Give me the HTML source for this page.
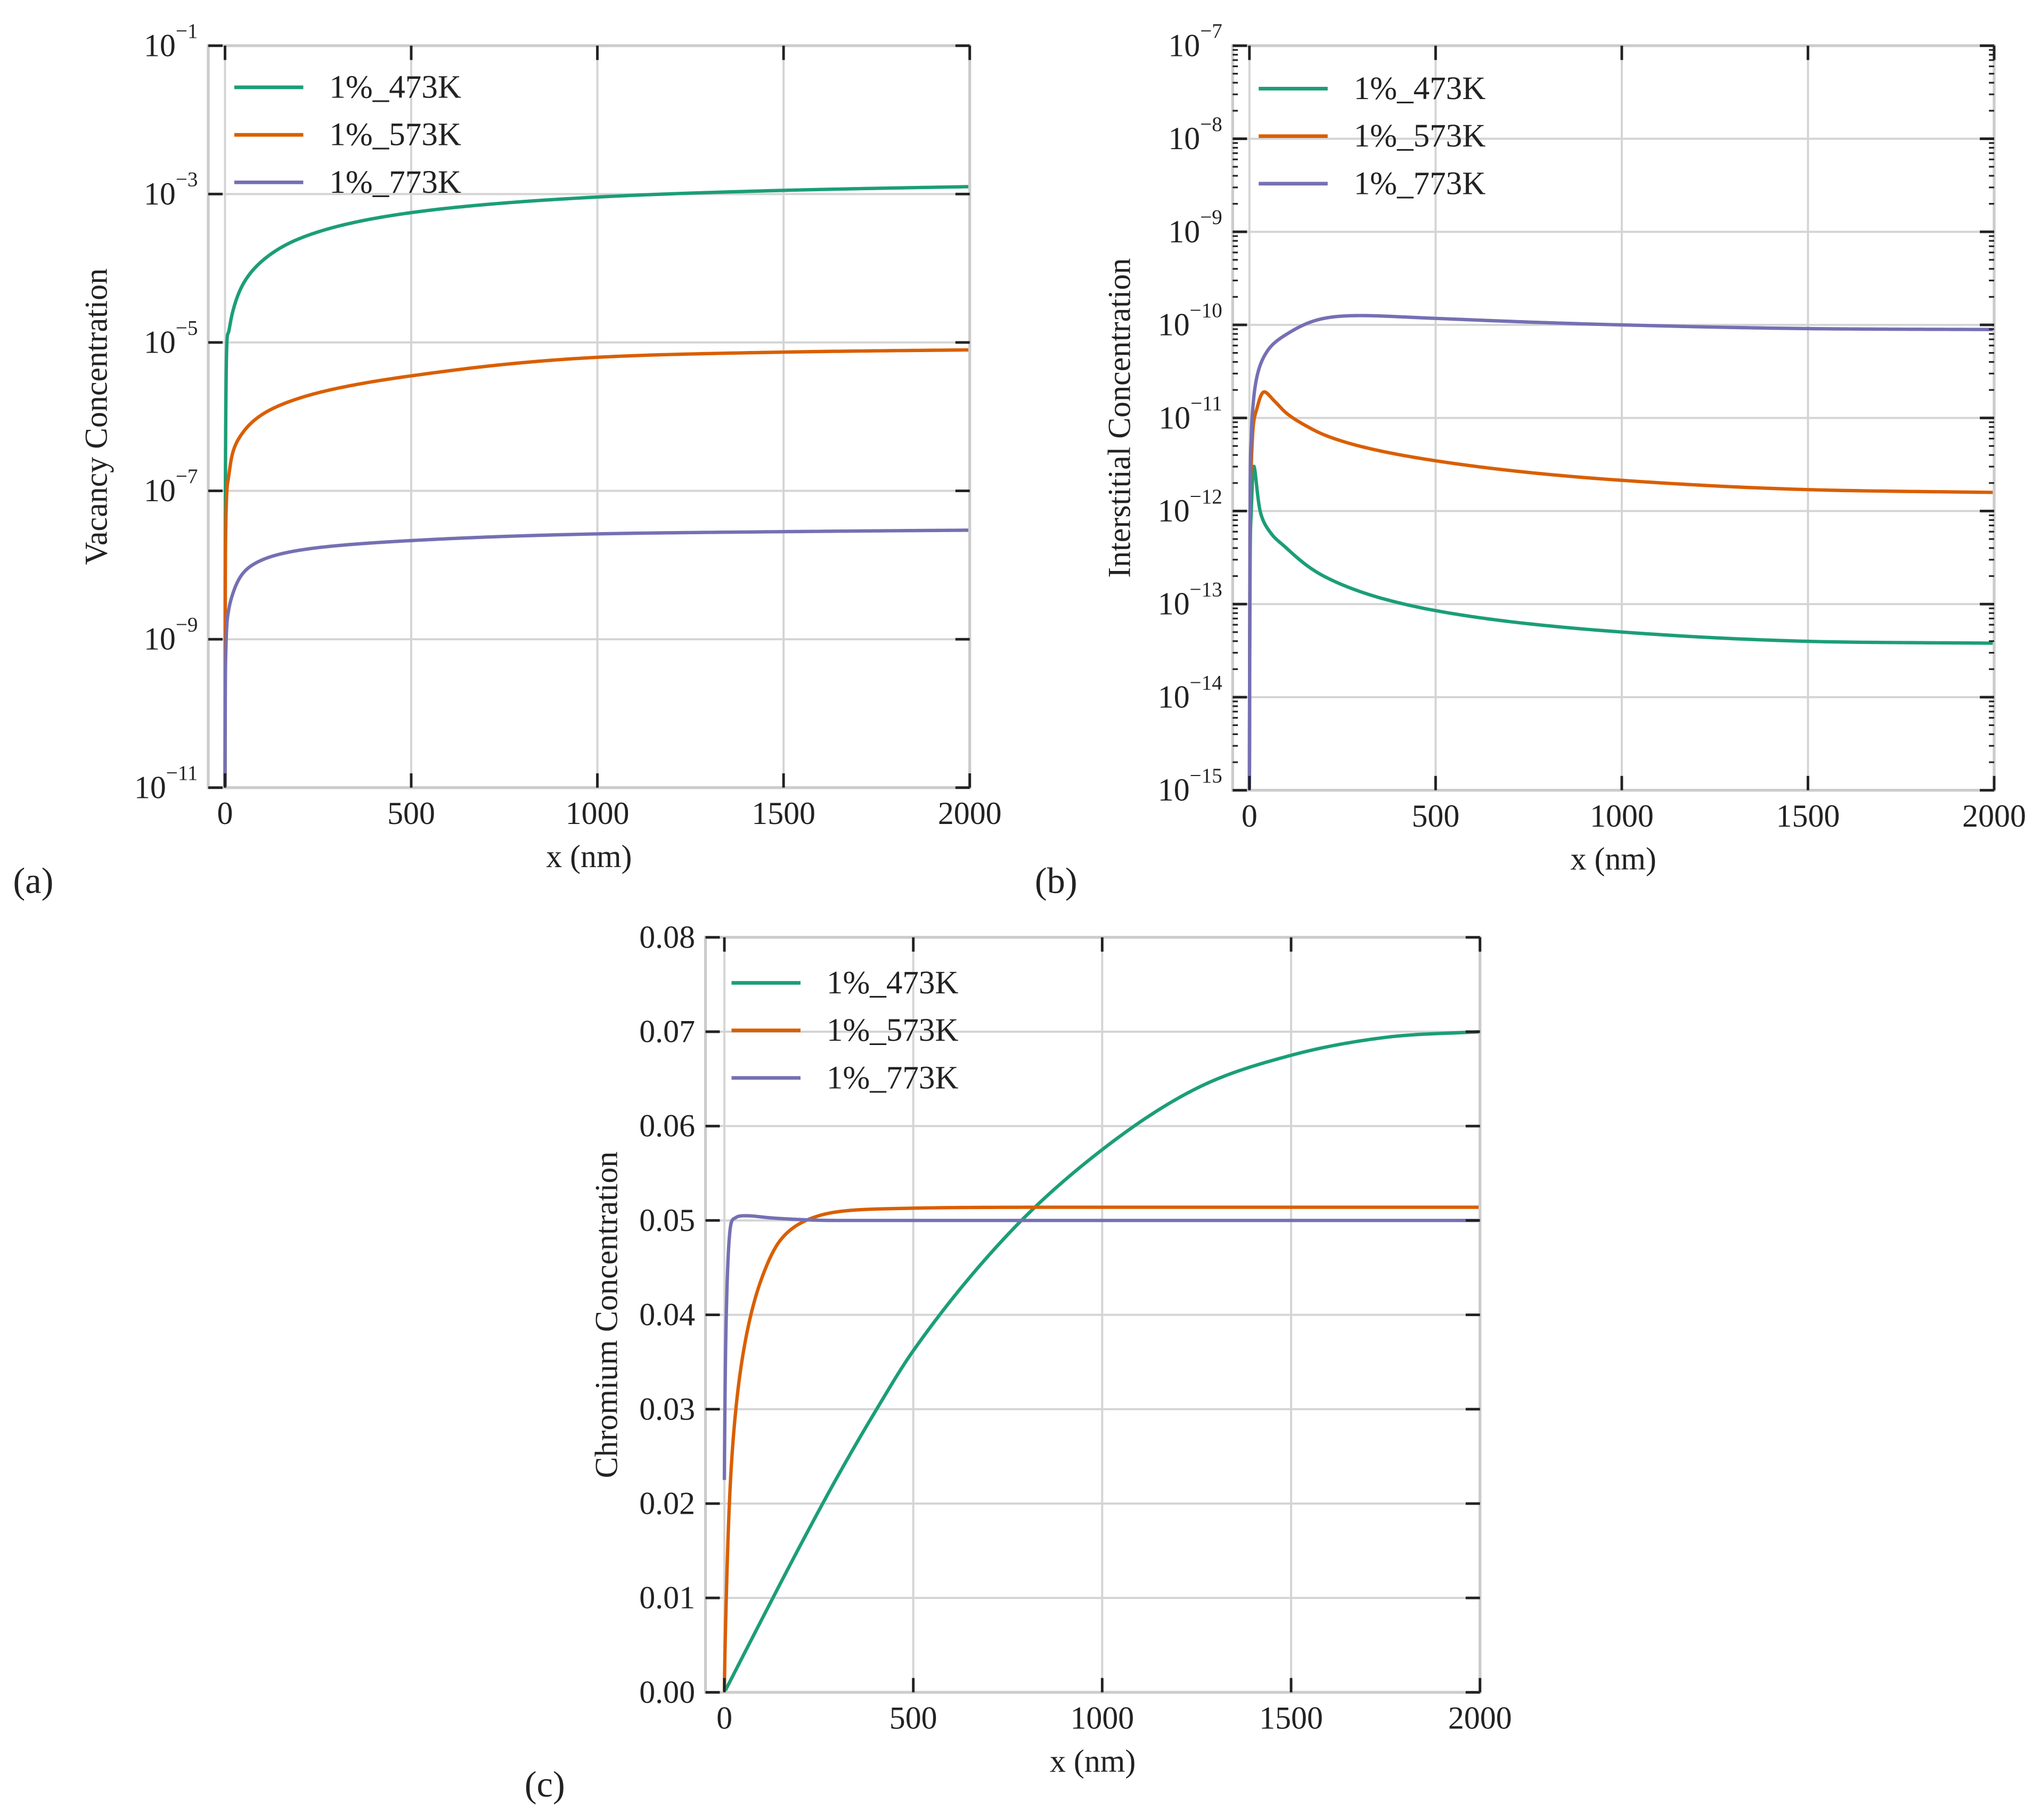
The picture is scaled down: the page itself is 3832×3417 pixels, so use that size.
<!DOCTYPE html>
<html><head><meta charset="utf-8">
<style>
html,body{margin:0;padding:0;background:#fff;}
svg{display:block;}
text{font-family:"Liberation Serif",serif;fill:#222;}
</style></head>
<body>
<svg id="fig" width="3832" height="3417" viewBox="0 0 1568 1398" xmlns="http://www.w3.org/2000/svg"></svg>
<script>
// ---------- data ----------
const seriesNames = ["1%_473K","1%_573K","1%_773K"];
const seriesColors = ["#1b9e77","#d95f02","#7570b3"];

// Panel (a): vacancy concentration, log10 values
const aX473 = [0,0.5,1,2,5,10,20,50,100,200,500,1000,1500,2000];
const aY473 = [-11,-8,-7,-6,-5,-4.85,-4.6,-4.2,-3.9,-3.6,-3.25,-3.04,-2.95,-2.9];
const aX573 = [0,0.5,1,2,5,10,20,50,100,200,500,1000,1500,2000];
const aY573 = [-11,-9,-8,-7.5,-7,-6.8,-6.5,-6.2,-5.97,-5.75,-5.45,-5.2,-5.13,-5.1];
const aX773 = [0,0.5,1,2,5,10,20,50,100,200,500,1000,1500,2000];
const aY773 = [-11,-10,-9.5,-9.2,-8.8,-8.6,-8.4,-8.1,-7.93,-7.8,-7.67,-7.58,-7.55,-7.53];

// Panel (b): interstitial concentration, log10 values
const bX473 = [0,2,5,12,30,60,100,200,500,1000,1500,2000];
const bY473 = [-15,-12.5,-12,-11.52,-12.02,-12.25,-12.4,-12.7,-13.07,-13.3,-13.4,-13.42];
const bX573 = [0,2,5,10,20,40,70,100,150,200,500,1000,1500,2000];
const bY573 = [-15,-12,-11.5,-11.1,-10.9,-10.72,-10.83,-10.95,-11.08,-11.18,-11.46,-11.67,-11.77,-11.8];
const bX773 = [0,2,5,10,20,50,100,200,300,500,1000,1500,2000];
const bY773 = [-15,-11.8,-11.2,-10.85,-10.56,-10.27,-10.1,-9.93,-9.9,-9.93,-10.0,-10.04,-10.05];

// Panel (c): chromium concentration
const cX473 = [0,100,200,300,400,500,750,1000,1250,1500,1750,2000];
const cY473 = [0,0.0078,0.0155,0.0229,0.0298,0.0362,0.0485,0.0575,0.064,0.0675,0.0694,0.070];
const cX573 = [0,5,20,50,100,150,250,500,1000,2000];
const cY573 = [0,0.01,0.025,0.036,0.044,0.048,0.0505,0.0513,0.0514,0.0514];
const cX773 = [0,5,15,30,60,150,300,2000];
const cY773 = [0.0225,0.04,0.049,0.0503,0.0505,0.0502,0.0500,0.0500];

const xTicks = [0,500,1000,1500,2000];
const aYTicks = [-1,-3,-5,-7,-9,-11];
const bYTicks = [-7,-8,-9,-10,-11,-12,-13,-14,-15];
const cYTicks = [0,0.01,0.02,0.03,0.04,0.05,0.06,0.07,0.08];
const cYTickLabels = ["0.00","0.01","0.02","0.03","0.04","0.05","0.06","0.07","0.08"];

// ---------- helpers ----------
const NS="http://www.w3.org/2000/svg";
const svg=document.getElementById('fig');
function el(tag,attrs,parent){const e=document.createElementNS(NS,tag);for(const k in attrs)e.setAttribute(k,attrs[k]);(parent||svg).appendChild(e);return e;}
function interp(xs,ys,mode){
  const f=mode==='lin'?(x=>x):(x=>Math.log(1+x/2));
  const fi=mode==='lin'?(u=>u):(u=>2*(Math.exp(u)-1));
  const u=xs.map(f),n=u.length,d=[],m=[];
  for(let i=0;i<n-1;i++)d.push((ys[i+1]-ys[i])/(u[i+1]-u[i]));
  m[0]=d[0];m[n-1]=d[n-2];
  for(let i=1;i<n-1;i++)m[i]=(d[i-1]*d[i]<=0)?0:(d[i-1]+d[i])/2;
  for(let i=0;i<n-1;i++){if(d[i]===0){m[i]=0;m[i+1]=0;continue;}const a=m[i]/d[i],b=m[i+1]/d[i],s=a*a+b*b;if(s>9){const t=3/Math.sqrt(s);m[i]=t*a*d[i];m[i+1]=t*b*d[i];}}
  const out=[];
  for(let i=0;i<n-1;i++){
    const h=u[i+1]-u[i],N=40;
    for(let k=0;k<N;k++){const t=k/N,t2=t*t,t3=t2*t;
      const y=(2*t3-3*t2+1)*ys[i]+(t3-2*t2+t)*h*m[i]+(-2*t3+3*t2)*ys[i+1]+(t3-t2)*h*m[i+1];
      out.push([fi(u[i]+t*h),y]);}
  }
  out.push([xs[n-1],ys[n-1]]);
  return out;
}

function panel(cfg){
  const g=el('g',{});
  
  
  const {L,R,T,B,x0,x1,y0,y1}=cfg;
  const sx=v=>L+(v-x0)/(x1-x0)*(R-L);
  const sy=v=>B-(v-y0)/(y1-y0)*(B-T);
  xTicks.forEach(t=>{const l=el('line',{x1:sx(t),x2:sx(t),y1:T,y2:B,stroke:'#d4d4d4','stroke-width':1.6},g);
    });
  cfg.yTicks.forEach(t=>{const l=el('line',{x1:L,x2:R,y1:sy(t),y2:sy(t),stroke:'#d4d4d4','stroke-width':1.6},g);
    });
  cfg.series.forEach((s,i)=>{
    const pts=interp(s[0],s[1],s[2]||'log').map(p=>sx(p[0]).toFixed(2)+','+sy(p[1]).toFixed(2));
    const p=el('polyline',{points:pts.join(' '),fill:'none',stroke:seriesColors[i],'stroke-width':2.6,'stroke-linejoin':'round'},g);
    
    
  });
  const fr=el('rect',{x:L,y:T,width:R-L,height:B-T,fill:'none',stroke:'#cccccc','stroke-width':2.2},g);
  
  xTicks.forEach(t=>{
    el('line',{x1:sx(t),x2:sx(t),y1:T,y2:T+11,stroke:'#222','stroke-width':2},g);
    el('line',{x1:sx(t),x2:sx(t),y1:B,y2:B-11,stroke:'#222','stroke-width':2},g);
    const tx=el('text',{x:sx(t),y:B+28,'font-size':24.5,'text-anchor':'middle'},g);
    tx.textContent=t;
    
  });
  if(cfg.minor){
    for(let dec=y0;dec<y1;dec++)for(let k=2;k<10;k++){const yy=sy(dec+Math.log10(k));
      el('line',{x1:L,x2:L+4,y1:yy,y2:yy,stroke:'#222','stroke-width':1.3},g);
      el('line',{x1:R,x2:R-4,y1:yy,y2:yy,stroke:'#222','stroke-width':1.3},g);}
  }
  cfg.yTicks.forEach((t,i)=>{
    el('line',{x1:L,x2:L+11,y1:sy(t),y2:sy(t),stroke:'#222','stroke-width':2},g);
    el('line',{x1:R,x2:R-11,y1:sy(t),y2:sy(t),stroke:'#222','stroke-width':2},g);
    const tx=el('text',{x:L-8,y:sy(t)+8,'font-size':24.5,'text-anchor':'end'},g);
    
    if(cfg.log){
      const a=el('tspan',{},tx);a.textContent='10';
      const b=el('tspan',{dy:-14,'font-size':16},tx);b.textContent='\u2212'+Math.abs(t);
    } else tx.textContent=cfg.yLabels[i];
  });
  seriesNames.forEach((n,i)=>{
    const ly=T+cfg.legY+i*36.5;
    const ln=el('line',{x1:L+20,x2:L+73,y1:ly,y2:ly,stroke:seriesColors[i],'stroke-width':2.8},g);
    
    const tx=el('text',{x:L+93,y:ly+8,'font-size':25},g);
    tx.textContent=n;
    
  });
  const xt=el('text',{x:(L+R)/2,y:B+61,'font-size':24.5,'text-anchor':'middle'},g);
  xt.textContent='x (nm)';
  
  const yt=el('text',{x:0,y:0,'font-size':24.5,'text-anchor':'middle',transform:'translate('+cfg.yTitleX+','+(T+B)/2+') rotate(-90)'},g);
  yt.textContent=cfg.yTitle;
  
  const pl=el('text',{x:cfg.labX,y:cfg.labY,'font-size':28},g);
  pl.textContent=cfg.label;
  
}

panel({name:'panel-a-vacancy',L:160,R:745,T:35,B:605,x0:-45,x1:2000,y0:-11,y1:-1,log:true,
  yTicks:aYTicks,series:[[aX473,aY473],[aX573,aY573],[aX773,aY773]],legY:32,
  yTitle:'Vacancy Concentration',yTitleX:82,label:'(a)',labX:10,labY:686});
panel({name:'panel-b-interstitial',L:947,R:1532,T:35,B:607,x0:-45,x1:2000,y0:-15,y1:-7,log:true,minor:true,
  yTicks:bYTicks,series:[[bX473,bY473],[bX573,bY573],[bX773,bY773]],legY:33,
  yTitle:'Interstitial Concentration',yTitleX:868,label:'(b)',labX:795,labY:686});
panel({name:'panel-c-chromium',L:542,R:1137,T:720,B:1300,x0:-50,x1:2000,y0:0,y1:0.08,log:false,
  yTicks:cYTicks,yLabels:cYTickLabels,series:[[cX473,cY473,'lin'],[cX573,cY573],[cX773,cY773]],legY:35,
  yTitle:'Chromium Concentration',yTitleX:474,label:'(c)',labX:403,labY:1380});
</script>
</body></html>
